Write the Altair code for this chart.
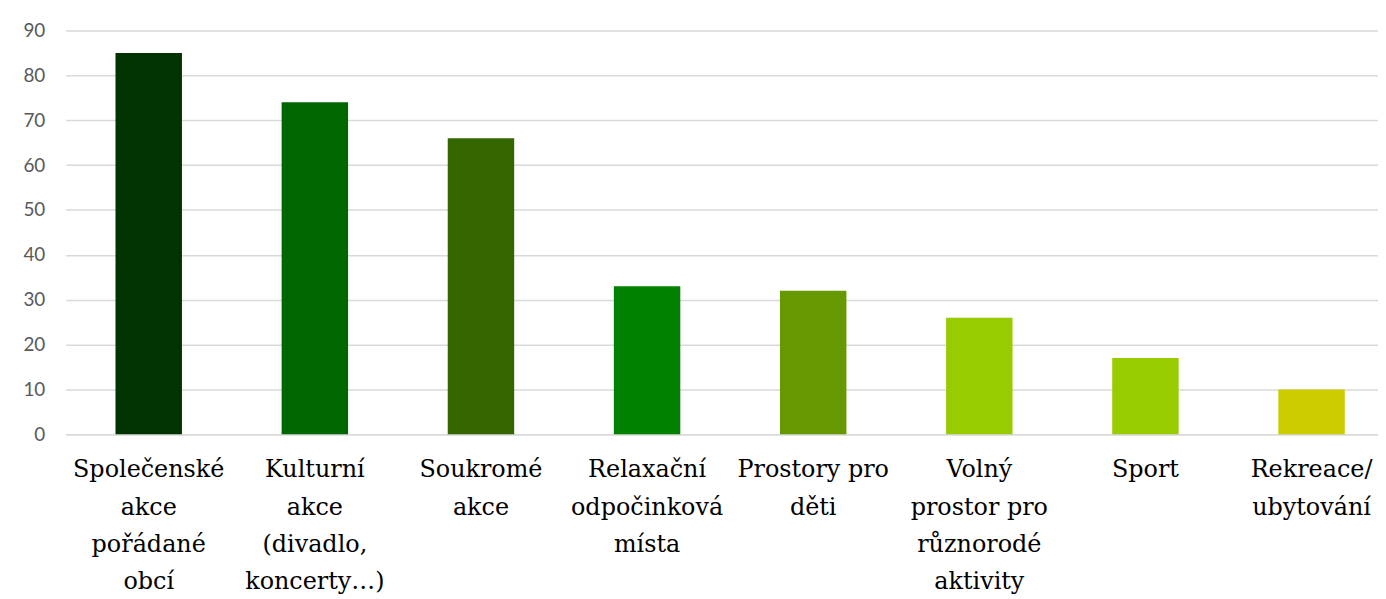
import altair as alt
import pandas as pd

categories = [
    "Společenské\nakce\npořádané\nobcí",
    "Kulturní\nakce\n(divadlo,\nkoncerty…)",
    "Soukromé\nakce",
    "Relaxační\nodpočinková\nmísta",
    "Prostory pro\nděti",
    "Volný\nprostor pro\nrůznorodé\naktivity",
    "Sport",
    "Rekreace/\nubytování",
]
values = [85, 74, 66, 33, 32, 26, 17, 10]
colors = ["#003300", "#006600", "#336600", "#008000", "#669900", "#99CC00", "#99CC00", "#CCCC00"]
y_ticks = list(range(0, 100, 10))

df = pd.DataFrame({"cat": categories, "val": values})

chart = alt.Chart(df).mark_bar().encode(
    x=alt.X(
        "cat:N",
        sort=categories,
        scale=alt.Scale(paddingInner=0.6, paddingOuter=0.25, align=0.6),
        axis=alt.Axis(
            title=None,
            labelAngle=0,
            labelExpr="split(datum.label, '\\n')",
            labelColor="#000000",
            ticks=False,
            domain=True,
            domainColor="#d9d9d9",
            domainWidth=1.5,
            grid=False,
            labelLimit=400,
        ),
    ),
    y=alt.Y(
        "val:Q",
        scale=alt.Scale(domain=[0, 90], nice=False),
        axis=alt.Axis(
            title=None,
            values=y_ticks,
            labelColor="#595959",
            ticks=False,
            domain=False,
            grid=True,
            gridColor="#d9d9d9",
            gridWidth=1.5,
        ),
    ),
    color=alt.Color("cat:N", scale=alt.Scale(domain=categories, range=colors), legend=None),
).properties(
    width=1320,
    height=406,
    autosize=alt.AutoSizeParams(type="none"),
    padding={"left": 58, "top": 21, "right": 0, "bottom": 164},
).configure_view(
    stroke=None
).configure_axisX(
    labelFont="DejaVu Serif",
    labelFontSize=24,
    labelLineHeight=37.5,
    labelPadding=24,
).configure_axisY(
    labelFont="Lato",
    labelFontSize=19,
    labelPadding=21,
)

chart.save("out.html", embed_options={"renderer": "svg", "actions": False})
